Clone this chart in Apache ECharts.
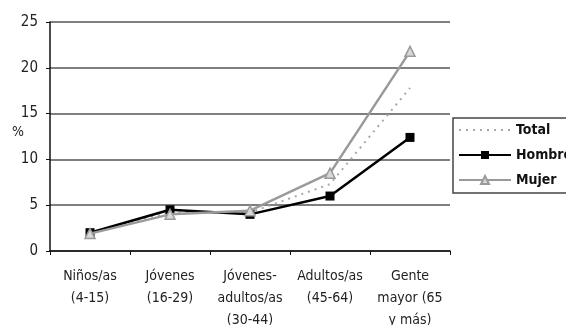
<!DOCTYPE html>
<html><head><meta charset="utf-8">
<script src="https://cdn.jsdelivr.net/npm/echarts@6/dist/echarts.min.js"></script>
<style>html,body{margin:0;padding:0;background:#fff}#c{width:566px;height:325px}</style>
</head><body><div id="c"></div>
<script>
const categories = ["Niños/as\n(4-15)", "Jóvenes\n(16-29)", "Jóvenes-\nadultos/as\n(30-44)", "Adultos/as\n(45-64)", "Gente\nmayor (65\ny más)"];
const total = [2.0, 4.2, 4.2, 7.3, 17.8];
const hombre = [2.0, 4.5, 4.0, 6.0, 12.4];
const mujer = [1.9, 4.0, 4.4, 8.5, 21.8];
const yTicks = [0, 5, 10, 15, 20, 25];

const font = "'DejaVu Sans Condensed','Liberation Sans Narrow','Liberation Sans',Arial,sans-serif";
const chart = echarts.init(document.getElementById('c'), null, {renderer: 'canvas'});
chart.setOption({
  animation: false,
  textStyle: {fontFamily: font},
  grid: {left: 50, right: 116, top: 22, bottom: 74, outerBoundsMode: 'none', containLabel: false},
  graphic: [{type: 'text', left: 12, top: 125, style: {text: '%', font: '14px ' + font, fill: '#222'}}],
  legend: {
    orient: 'vertical', left: 453, top: 118, padding: [5, 6, 6, 5],
    itemWidth: 52, itemHeight: 10, itemGap: 11,
    borderColor: '#444', borderWidth: 1.5,
    textStyle: {fontFamily: font, fontSize: 14, fontWeight: 'bold', color: '#111'},
    data: [{name: 'Total', itemStyle: {opacity: 0}}, 'Hombre', 'Mujer']
  },
  xAxis: {
    type: 'category', data: categories, boundaryGap: true,
    axisLine: {lineStyle: {color: '#111', width: 1.5}},
    axisTick: {show: true, length: 4, lineStyle: {color: '#111'}},
    axisLabel: {fontFamily: font, fontSize: 14, color: '#222', lineHeight: 22, margin: 14, interval: 0}
  },
  yAxis: {
    type: 'value', min: yTicks[0], max: yTicks[yTicks.length - 1], interval: 5,
    axisLine: {show: true, lineStyle: {color: '#111', width: 1.5}},
    axisTick: {show: true, length: 4, lineStyle: {color: '#111'}},
    axisLabel: {fontFamily: font, fontSize: 15, color: '#222', margin: 12},
    splitLine: {lineStyle: {color: '#555', width: 1.5}}
  },
  series: [
    {name: 'Total', type: 'line', data: total, symbol: 'none',
     lineStyle: {color: '#a8a8a8', width: 2, type: [2, 5]}, itemStyle: {color: '#a8a8a8'}, z: 2},
    {name: 'Hombre', type: 'line', data: hombre, symbol: 'rect', symbolSize: 9,
     lineStyle: {color: '#000', width: 2.5}, itemStyle: {color: '#000', borderWidth: 0}, z: 3},
    {name: 'Mujer', type: 'line', data: mujer, symbol: 'triangle', symbolSize: 10,
     lineStyle: {color: '#9a9a9a', width: 2.5}, itemStyle: {color: '#d8d8d8', borderColor: '#9a9a9a', borderWidth: 1.5}, z: 4}
  ]
});
</script></body></html>
